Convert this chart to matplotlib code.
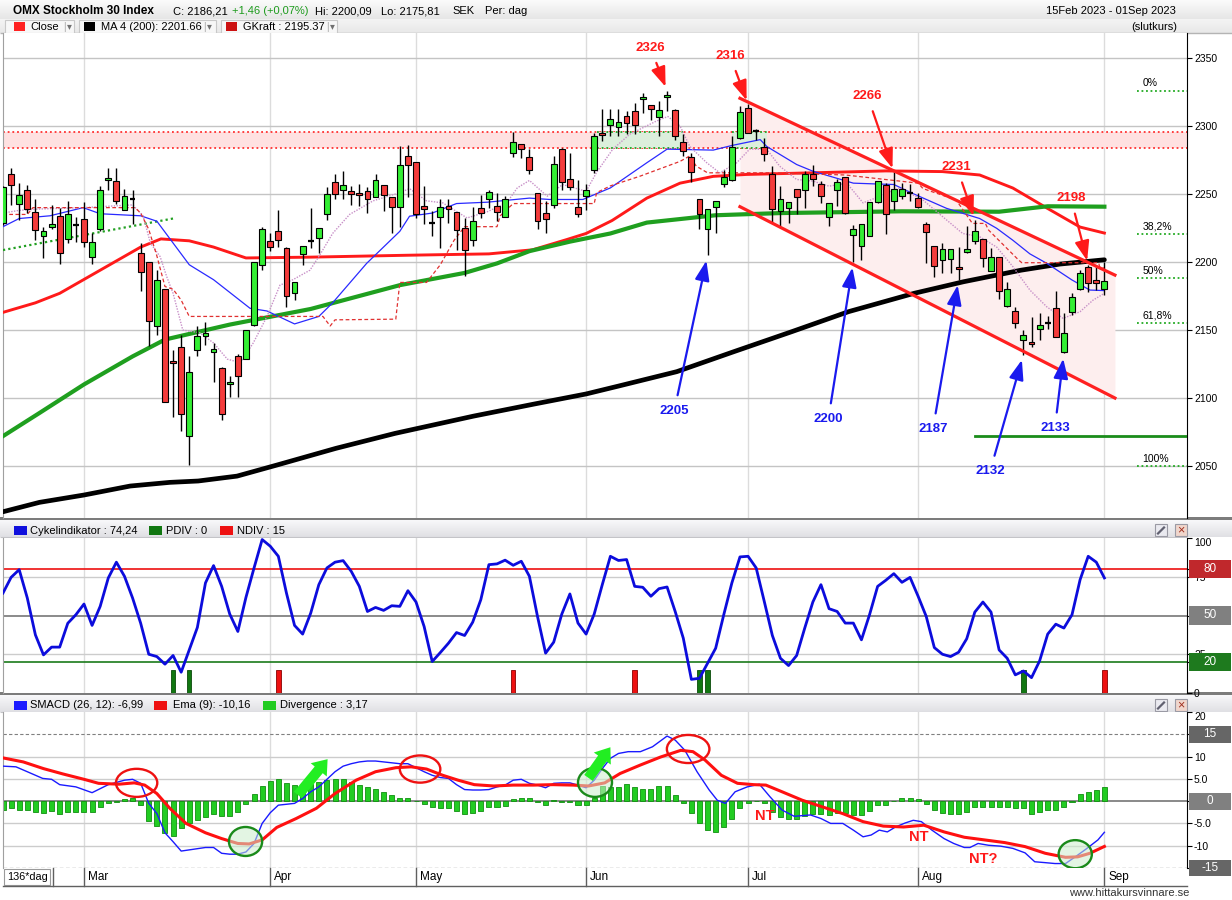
import numpy as np
import matplotlib
matplotlib.use("Agg")
import matplotlib.pyplot as plt
import matplotlib.transforms as mtransforms
from matplotlib.patches import Rectangle, Ellipse, FancyArrowPatch
from matplotlib.colors import LinearSegmentedColormap

plt.rcParams['font.family'] = ['Liberation Sans', 'DejaVu Sans']

# ---------------- daily OHLC, OMXS30, 15 Feb - 1 Sep 2023 ----------------
opens = [
    2229, 2265, 2242.6, 2253, 2236.8, 2219, 2226, 2233.6, 2217, 2227,
    2231.6, 2203.7, 2224, 2260, 2259.6, 2238.5, 2246, 2207, 2200, 2153,
    2180, 2127.3, 2137.5, 2072, 2135, 2145.3, 2133.8, 2122, 2110.3, 2130.6,
    2128.7, 2154, 2198, 2215.4, 2223, 2210, 2177, 2206, 2215.5, 2218,
    2235.4, 2259, 2252.6, 2252.3, 2251, 2252.3, 2248, 2256.5, 2248, 2240.5,
    2278, 2273.7, 2241, 2228.5, 2233, 2241, 2236.9, 2225.3, 2216.5, 2239.8,
    2246, 2241, 2233, 2280.3, 2286.5, 2277.4, 2251, 2236, 2242.3, 2283.3,
    2261.2, 2240.5, 2248.4, 2267.6, 2295, 2300.5, 2299.5, 2307.4, 2311, 2319.7,
    2315.7, 2306.9, 2321.6, 2311.5, 2288.2, 2277.4, 2246.4, 2224.3, 2240.5, 2257.7,
    2260, 2291.4, 2313.5, 2296.3, 2284.8, 2264.9, 2237.3, 2239.8, 2253.8, 2252.6,
    2264.4, 2257.5, 2233.2, 2252.6, 2262.6, 2220.1, 2211.5, 2218.9, 2244, 2256.3,
    2245, 2248.5, 2250.5, 2246.8, 2227.7, 2211.8, 2201.5, 2202, 2196, 2207.4,
    2215.4, 2217.2, 2193.4, 2203.4, 2167.6, 2164.2, 2142.6, 2141.4, 2150.5, 2155.4,
    2166, 2134, 2163.2, 2180, 2196, 2186.8, 2180]
highs = [
    2256, 2269, 2258, 2257, 2246, 2226, 2242, 2240, 2245, 2233,
    2244, 2221, 2255.6, 2269, 2269, 2253.7, 2253, 2213.7, 2200, 2194,
    2180, 2135, 2146.5, 2131, 2153, 2156, 2140.5, 2123, 2116, 2132.6,
    2150, 2200, 2226, 2221, 2238, 2211, 2185, 2212, 2239.6, 2225,
    2255, 2264.4, 2266.8, 2256, 2257.7, 2255, 2265, 2256.5, 2248, 2285,
    2286, 2273.7, 2255.8, 2237.3, 2246, 2246, 2236.9, 2232.4, 2240.5, 2249.6,
    2253.3, 2250.9, 2248.4, 2295.8, 2287, 2282.8, 2251, 2244.7, 2277.9, 2284,
    2279.9, 2260, 2257.7, 2295, 2312.3, 2312.3, 2312.3, 2311, 2317, 2324,
    2315.7, 2318.4, 2326, 2312.8, 2294, 2280.3, 2246.4, 2239, 2244.7, 2268,
    2292.6, 2314.7, 2316, 2298, 2291.4, 2270.5, 2255.8, 2244.2, 2253.8, 2266.8,
    2271, 2259.5, 2243.5, 2260.7, 2262.6, 2227.5, 2228.3, 2244.2, 2259.5, 2258,
    2266, 2258.3, 2257.4, 2250.5, 2229.2, 2211.8, 2214.2, 2209.8, 2210.8, 2226.5,
    2231, 2217.2, 2210, 2203.4, 2185.5, 2167.2, 2150, 2159.8, 2162.7, 2160.3,
    2179, 2162.3, 2177.5, 2194, 2198, 2196, 2200.09]
lows = [
    2227, 2242, 2231, 2236, 2216, 2203, 2224, 2198.5, 2214, 2214.5,
    2211, 2198.5, 2222.5, 2253, 2243, 2238, 2228, 2178.4, 2138, 2146,
    2097, 2086, 2076, 2051, 2131, 2139, 2112, 2084, 2100.5, 2101,
    2128.7, 2153, 2194, 2207.8, 2211, 2167, 2172, 2198, 2210, 2206.6,
    2230.7, 2246, 2246, 2242, 2241.5, 2236, 2248, 2237.3, 2221.4, 2225.8,
    2247.7, 2232.4, 2228, 2219.4, 2210, 2229, 2208.6, 2189.4, 2212, 2232.4,
    2239.8, 2230, 2233, 2277.4, 2276.2, 2265, 2224, 2221.4, 2239.8, 2253.3,
    2253.3, 2233, 2238, 2265.6, 2289, 2292.6, 2293, 2294, 2294, 2309.3,
    2304.4, 2292.6, 2311, 2290, 2278, 2258.7, 2224.6, 2205, 2221.4, 2255.3,
    2259.5, 2290.7, 2295, 2290, 2274.2, 2229.2, 2226.7, 2228.7, 2235.6, 2239.8,
    2255.8, 2243.5, 2226.3, 2241, 2235.6, 2200, 2201.7, 2218.9, 2243.5, 2220.6,
    2238, 2246, 2245, 2239.5, 2199.5, 2189.2, 2192.2, 2192.2, 2187, 2206.9,
    2213, 2196.6, 2193.4, 2172.5, 2166.7, 2151.2, 2132, 2137.7, 2143, 2150.5,
    2144.6, 2133, 2161, 2179.4, 2178.2, 2179.4, 2175.81]
closes = [
    2255, 2256.6, 2249, 2239, 2223.8, 2223, 2228, 2206.6, 2235, 2227,
    2214.7, 2214.7, 2253, 2262, 2244.6, 2248.5, 2246, 2192.6, 2156.6, 2186.8,
    2097, 2126, 2088, 2119, 2145.7, 2147.5, 2136, 2088, 2111.8, 2116.4,
    2150, 2200, 2224, 2211, 2216, 2175, 2185, 2212, 2215.5, 2225,
    2250, 2250, 2256.8, 2250, 2249.4, 2246.7, 2260, 2249.4, 2240.5, 2271.5,
    2271, 2235.4, 2239.3, 2228.5, 2240.5, 2239.3, 2223.8, 2208.6, 2230.5, 2236,
    2251.6, 2236.9, 2246.4, 2288.5, 2283.3, 2268, 2230, 2231.7, 2272.2, 2259,
    2255.3, 2235.6, 2253.3, 2293, 2293.6, 2305.4, 2303.2, 2302.5, 2300.5, 2321.6,
    2312.8, 2311.5, 2323, 2292.6, 2282, 2266, 2235.6, 2239, 2244.7, 2262.6,
    2284.8, 2310.3, 2295, 2296.3, 2279.6, 2239, 2246.4, 2244.2, 2247.9, 2264.9,
    2261.2, 2248.9, 2243.5, 2258.7, 2236, 2224.6, 2228.3, 2244.2, 2259.5, 2235.6,
    2253.7, 2253.4, 2250.5, 2240.7, 2222.3, 2197, 2209.3, 2209.8, 2194.6, 2209.3,
    2223, 2203.2, 2203.4, 2179, 2180.4, 2155, 2146.3, 2139.5, 2153.7, 2155.4,
    2145, 2148, 2174, 2191.7, 2184.8, 2184.75, 2186.21]

# month starts (trading-day index) and their names
month_idx = [10, 33, 51, 72, 92, 113, 136]
month_names = ['Mar', 'Apr', 'May', 'Jun', 'Jul', 'Aug', 'Sep']

# moving averages / overlays: (day index, value)
ma200_x = [0, 4.5, 10, 15.7, 20.6, 24.1, 28.9, 33.8, 41.1, 48.4, 58.1, 65.6, 72, 76,
           83.2, 90.2, 97.4, 104.4, 112.5, 118.6, 125.7, 130.5, 136]
ma200_y = [2016.4, 2023.3, 2028.7, 2035.3, 2038, 2039, 2042.6, 2050.7, 2063, 2074,
           2086.7, 2095.6, 2103, 2108.8, 2119.4, 2134, 2148.8, 2163.5, 2177, 2185.5,
           2194, 2198.5, 2201.66]
ma_red_x = [0, 4, 7, 12, 17, 19.5, 23, 26, 30, 38, 50, 60, 65.4, 69.6, 72, 75.2, 79.5,
            83.6, 87.7, 91.8, 100, 109, 116, 120.6, 124.7, 128.9, 133, 136]
ma_red_y = [2163, 2170, 2177, 2194, 2211, 2217, 2215.6, 2211, 2203, 2203.6, 2205, 2206,
            2209, 2216.5, 2221, 2230.5, 2247, 2258, 2263, 2264.4, 2265.6, 2267, 2266.5,
            2264, 2254.4, 2239.7, 2225.7, 2221.3]
ma_green_x = [0, 4.5, 10, 16, 20, 28, 38, 49, 57, 61, 65, 70, 75, 79.5, 88, 96, 111,
              123, 129, 136]
ma_green_y = [2072, 2089, 2110, 2130.6, 2143, 2154, 2165.5, 2183, 2192, 2199, 2208,
              2215, 2221, 2229, 2234.4, 2236, 2237.3, 2237, 2241, 2240.7]
ma_blue_x = [0, 2, 5.8, 9.9, 12, 17, 19, 23, 26, 30.5, 32.6, 36, 39, 40.7, 44.9, 49,
             50.2, 53, 56, 59.8, 65, 67.5, 71.6, 75, 79.5, 82, 87.7, 90, 93.5, 94.3, 98,
             100, 105, 107.4, 110, 112.3, 116.5, 120.6, 122.7, 124.7, 126.8, 128.9, 132,
             134.2, 136]
ma_blue_y = [2226, 2232, 2234, 2240, 2235.5, 2234, 2230, 2198, 2187, 2166, 2164, 2154.5,
             2160, 2170, 2199, 2222.6, 2233.7, 2236, 2243, 2244, 2247, 2246, 2246, 2254.5,
             2273, 2283, 2282.3, 2285.7, 2290, 2285, 2271.7, 2266.8, 2258, 2257.5, 2257,
             2250.5, 2239.5, 2232, 2224.8, 2216, 2206, 2199, 2186.8, 2179.4, 2179]
ma_short_x = [0, 2, 4.6, 9.9, 16, 17.3, 18.2, 19.4, 20.2, 21, 22.2, 24.3, 26, 27.7, 29.3,
              30.9, 32.6, 34.2, 35.8, 37.9, 39, 40.7, 42.8, 45.7, 49, 50.2, 52.3, 54.3,
              57.3, 59.8, 62.2, 63.5, 65, 67.2, 69.1, 72, 73.3, 75.3, 77.4, 80.7, 82.1,
              83.6, 84.8, 86.9, 88.5, 90.6, 92.2, 94.3, 95.9, 98, 100, 102, 104.2, 106.2,
              108.3, 110.7, 113.6, 116.5, 118.5, 120.6, 122.7, 124.7, 126.8, 128.9, 130.9,
              133, 134.6, 136]
ma_short_y = [2236, 2238, 2239, 2240, 2242, 2234, 2214, 2204, 2189.5, 2177, 2150, 2148,
              2140.5, 2128.6, 2126, 2140.5, 2160, 2183, 2187, 2194, 2204, 2221, 2235, 2245,
              2251, 2254, 2245, 2243.5, 2232.4, 2237, 2243.5, 2254.5, 2260, 2248.4, 2257,
              2252, 2266, 2283, 2294, 2303.7, 2307, 2300, 2285, 2273, 2265.6, 2273, 2283,
              2283, 2270.5, 2260.7, 2259.5, 2255.8, 2258, 2243.5, 2248.4, 2254.5, 2245.6,
              2231, 2221, 2218.6, 2211, 2196.6, 2179.4, 2167, 2158.6, 2163.5, 2172, 2177]
gkraft_x = [0, 3, 3.7, 16.3, 17, 18, 19, 20, 21, 22, 23, 39.5, 40.4, 41, 48.5, 49, 52.3,
            54, 55.7, 57, 61, 61.4, 63, 73, 73.3, 75, 78.6, 83.6, 84.8, 85.6, 87, 95, 104,
            113, 113.6, 117.7, 119.7, 121.3, 121.7, 125.4, 125.8, 135.3, 135.4, 136]
gkraft_y = [2235, 2235, 2240, 2240, 2236, 2224, 2204.5, 2182, 2180, 2172, 2160, 2160,
            2153, 2157.5, 2158, 2185, 2185, 2198, 2216, 2226, 2226, 2234, 2243, 2243, 2251,
            2256, 2263, 2274, 2278, 2270.5, 2265.6, 2265.6, 2264, 2258, 2254, 2245.6,
            2228.4, 2228.4, 2223.5, 2201.5, 2199.5, 2199.5, 2196.6, 2195.37]

# drawn studies on the price chart
chan_x = [91, 137.3]
chan_top = [2320.4, 2190.4]
chan_bot = [2240.7, 2100]
band_lo, band_hi = 2283.6, 2295.3
zone_x = [(73.3, 84), (90, 94.3)]
trend_x, trend_y = [0, 21], [2208.8, 2232]
support_x, support_y = [120, 146.2], [2072, 2072]
fib_levels = [2326, 2220.6, 2188, 2155.4, 2050]
fib_names = ['0%', '38,2%', '50%', '61,8%', '100%']

red_marks = [2326, 2316, 2266, 2231, 2198]
red_marks_idx = [82, 92, 110, 120, 134]
red_marks_off = [(-12, 31), (-13, 35), (-19, 55), (-13, 38), (-12.5, 48)]
blue_marks = [2205, 2200, 2187, 2132, 2133]
blue_marks_idx = [87, 105, 118, 126, 131]
blue_marks_off = [(-24, -112), (-18, -113), (-18.5, -107.5), (-24, -84), (-6.5, -54)]

# cycle indicator
cykel = [
    64.5, 74.6, 79.6, 61.3, 37.5, 24.6, 29.6, 29.6, 45.0, 50.5,
    57.4, 43.6, 55.9, 74.2, 84.4, 75.3, 61.3, 45.0, 25.0, 23.5,
    18.6, 24.2, 13.4, 27.8, 42.3, 71.0, 82.2, 68.8, 50.9, 39.7,
    61.7, 80.7, 99.0, 94.7, 88.2, 64.5, 43.6, 38.0, 51.6, 69.9,
    80.7, 84.4, 85.4, 78.5, 68.8, 52.6, 55.2, 53.3, 56.3, 55.9,
    66.0, 58.7, 42.9, 20.3, 26.1, 32.1, 39.0, 37.1, 45.7, 60.2,
    82.8, 83.3, 85.7, 82.4, 85.0, 75.3, 49.4, 25.7, 32.8, 50.9,
    63.9, 45.1, 38.0, 50.9, 69.9, 88.2, 85.5, 86.1, 68.8, 68.2,
    62.4, 67.3, 68.4, 52.6, 35.4, 8.8, 9.5, 19.2, 28.9, 50.5,
    71.0, 87.8, 88.2, 80.7, 59.1, 37.1, 22.4, 17.7, 24.2, 41.9,
    58.7, 69.9, 54.4, 52.6, 45.1, 45.1, 34.3, 50.5, 68.8, 72.7,
    77.0, 71.4, 74.6, 62.4, 49.4, 29.3, 25.0, 23.5, 26.3, 35.0,
    52.2, 58.7, 52.2, 27.8, 22.4, 11.7, 14.2, 9.9, 20.7, 38.0,
    44.4, 41.9, 50.5, 73.1, 88.2, 84.4, 74.24]
pdiv_idx = [21, 23, 86, 87, 126]
ndiv_idx = [34, 63, 78, 136]
div_height = 15

# SMACD
smacd_x = [0, 1.6, 3, 4.9, 6, 7, 9, 11, 13, 15, 16, 17, 18, 19, 20, 21, 22, 23.5, 25, 26,
           27, 28, 29, 30, 31, 32, 33, 34, 36, 37, 38, 39, 40, 41, 42, 43, 44, 45, 46, 47,
           48, 49, 50, 51, 52, 53, 54, 55, 56, 57, 58, 59, 60, 61, 62, 63, 64, 65, 66, 67,
           68, 69, 70, 71, 72, 73, 74, 75, 76, 77.2, 78.7, 80.2, 82, 83, 84.2, 85.7, 87.2,
           88.2, 89.2, 90.4, 91.9, 93.4, 94.7, 96.2, 97.7, 99.7, 101, 102.2, 103.7, 105,
           106.2, 107.2, 108.2, 109.2, 110.2, 111.4, 112.4, 113.4, 114.7, 116.2, 117.4,
           118.7, 119.4, 120.4, 121.7, 123.2, 124.7, 126.2, 127.4, 128.7, 129.9, 131.2,
           132.4, 133.7, 135.2, 136]
smacd_y = [7.85, 7.7, 6.6, 5.1, 4.9, 3.7, 3.2, 1.9, 3.7, 4.7, 4.9, 4.0, -0.5, -2.8, -7.1,
           -9.1, -11.2, -10.8, -10.4, -10.4, -11.7, -11.9, -11.9, -11.4, -9.5, -5.0, -2.6,
           -0.9, -0.5, 0.6, 2.1, 3.2, 4.9, 6.6, 7.85, 8.4, 8.8, 9.0, 9.0, 8.8, 8.6, 8.4,
           8.4, 7.5, 6.6, 5.8, 5.3, 5.1, 3.7, 2.6, 2.5, 2.5, 2.6, 3.2, 3.6, 4.7, 4.9, 4.0,
           3.6, 3.0, 4.0, 4.1, 4.1, 3.6, 3.0, 4.7, 7.3, 9.6, 10.7, 11.1, 11.1, 12.2, 14.6,
           13.7, 11.4, 6.6, 2.5, 0.2, -0.5, 2.1, 3.2, 3.8, 1.0, -2.0, -3.4, -3.1, -3.9,
           -5.0, -5.0, -6.5, -8.0, -7.6, -6.5, -6.9, -5.8, -4.9, -4.3, -4.6, -6.5, -8.4,
           -9.5, -10.4, -10.4, -9.5, -9.9, -10.1, -10.6, -11.6, -13.6, -13.8, -14.0, -14.0,
           -12.5, -10.8, -8.7, -6.99]
ema_x = [0, 2.5, 5, 7.4, 10, 11.8, 14.3, 16.2, 17.5, 19, 20.6, 22.6, 25, 27, 29, 30.4, 32,
         33.8, 36.2, 38.7, 41, 43.6, 46, 48.5, 50.4, 52.3, 54.3, 56.2, 58.2, 60.6, 63, 65.5,
         67.9, 70.4, 72.3, 74.3, 76.2, 78.7, 81.2, 83.7, 85.2, 86.7, 88.7, 90.7, 92.7, 94.2,
         96.2, 98.7, 101.2, 103.7, 106.2, 108.7, 111.2, 113.7, 116.2, 118.7, 121.2, 123.7,
         126.2, 128.7, 131.2, 132.7, 134.2, 136]
ema_y = [9.7, 8.8, 7.3, 6.1, 4.9, 4.0, 3.8, 4.1, 3.6, 1.7, -1.6, -5.0, -7.1, -8.4, -9.5,
         -9.6, -8.7, -5.9, -3.9, -1.6, 1.7, 4.7, 6.6, 7.5, 7.7, 7.2, 5.8, 4.7, 3.7, 3.4,
         3.6, 3.6, 3.7, 3.6, 3.4, 4.1, 6.2, 8.1, 9.9, 11.4, 11.1, 9.2, 5.8, 4.0, 3.7, 3.6,
         2.1, 0.2, -1.3, -2.8, -4.6, -5.6, -5.8, -5.4, -6.9, -8.1, -8.7, -9.3, -10.2,
         -11.7, -12.6, -12.5, -11.7, -10.16]
divergence = [
    -2.0, -1.6, -1.9, -2.0, -2.4, -2.6, -2.2, -2.9, -2.4, -2.4,
    -2.4, -2.4, -1.4, -0.4, -0.1, 0.4, 0.8, -0.9, -4.4, -5.6,
    -7.1, -7.8, -6.1, -5.0, -4.3, -3.5, -2.8, -3.4, -3.4, -2.4,
    -0.7, 1.6, 3.4, 4.6, 4.9, 4.1, 3.6, 3.2, 3.8, 4.3,
    4.7, 4.9, 4.9, 4.3, 3.7, 3.1, 2.8, 2.1, 1.3, 0.8,
    0.8, 0.0, -0.7, -1.4, -1.6, -1.6, -2.2, -2.8, -2.6, -2.2,
    -1.4, -1.4, -1.1, 0.4, 0.8, 0.8, -0.3, -0.9, 0.2, -0.1,
    -0.3, -0.9, -0.9, 0.8, 3.4, 3.2, 3.2, 3.8, 3.1, 2.8,
    2.8, 3.4, 3.4, 1.3, -0.5, -2.6, -5.0, -6.4, -6.9, -5.9,
    -3.9, -1.6, -0.5, 0.0, -0.5, -2.4, -3.5, -4.1, -4.1, -3.4,
    -2.9, -2.8, -3.1, -2.6, -2.6, -3.1, -3.1, -2.2, -0.9, -0.9,
    0.0, 0.6, 0.8, 0.4, -0.7, -2.0, -2.6, -2.8, -2.9, -2.4,
    -1.3, -1.4, -1.3, -1.3, -1.4, -1.6, -1.6, -2.8, -2.4, -1.9,
    -1.9, -1.4, -0.1, 1.5, 2.1, 2.6, 3.17]

# markings on the SMACD panel: (index, value, width, height)
red_rings = [(16.5, 4.1, 5.1, 6.3), (51.5, 7.2, 5.0, 6.1), (84.6, 11.7, 5.25, 6.3)]
green_rings = [(29.95, -9.05, 4.1, 6.5), (73.1, 4.2, 4.2, 6.5), (132.4, -11.9, 4.1, 6.3)]
up_arrows = [((36.2, 0.9), (40.3, 9.9)), ((72.1, 4.7), (75.2, 12.6))]
nt_labels = [(94.0, -3.3, 'NT'), (113.1, -8.0, 'NT'), (121.0, -13.0, 'NT?')]

# ---------------- figure ----------------
W, H = 1232, 900
fig = plt.figure(figsize=(W / 100, H / 100), dpi=100)
fig.patch.set_facecolor('white')


def px_axes(x0, y0, x1, y1, **kw):
    return fig.add_axes([x0 / W, 1 - y1 / H, (x1 - x0) / W, (y1 - y0) / H], **kw)


bg = px_axes(0, 0, W, H, zorder=0)


def gradient(x0, x1, y0, y1, c0, c1):
    cmap = LinearSegmentedColormap.from_list('hdr', [c0, c1])
    bg.imshow(np.linspace(0, 1, 32).reshape(-1, 1), extent=(x0, x1, y1, y0),
              aspect='auto', cmap=cmap, origin='upper', interpolation='bilinear', zorder=0)


# title bar
gradient(0, W, 0, 19, '#fbfbfb', '#e6e6e6')
gradient(0, W, 19, 33, '#f4f4f4', '#e8e8e8')
bg.hlines(33, 0, W, color='#b4b4b4', lw=1, zorder=1)

TXT = 8
row1, row2 = 11.5, 26.5
bg.text(13, row1, 'OMX Stockholm 30 Index', fontsize=8.5, fontweight='bold', va='center')
bg.text(173, row1, 'C: 2186,21', fontsize=TXT, va='center')
bg.text(232, row1, '+1,46 (+0,07%)', fontsize=TXT, va='center', color='#1c9a1c')
bg.text(315, row1, 'Hi: 2200,09', fontsize=TXT, va='center')
bg.text(381, row1, 'Lo: 2175,81', fontsize=TXT, va='center')
bg.text(452, row1, 'SEK', fontsize=TXT, va='center')
bg.text(485, row1, 'Per: dag', fontsize=TXT, va='center')
bg.text(1176, row1, '15Feb 2023 - 01Sep 2023', fontsize=TXT, va='center', ha='right')
bg.text(1177, row2, '(slutkurs)', fontsize=TXT, va='center', ha='right')

legend_items = [((5, 74), '#ff2222', 14, 'Close', 30, 63),
                ((79, 216), '#000000', 84, 'MA 4 (200): 2201.66', 101, 203),
                ((221, 337), '#cc1111', 226, 'GKraft : 2195.37', 243, 326)]
for (bx0, bx1), col, sx, label, tx, dx in legend_items:
    bg.add_patch(Rectangle((bx0, 20), bx1 - bx0, 13, fc='#f7f7f7', ec='#c8c8c8', lw=0.8, zorder=1))
    bg.add_patch(Rectangle((sx, 22), 10.5, 9, fc=col, ec='none', zorder=2))
    bg.text(tx, row2, label, fontsize=TXT, va='center', zorder=3)
    bg.text(dx, row2, '|', fontsize=7, va='center', color='#a0a0a0', zorder=3)
    bg.text(dx + 3.5, row2, '\u25be', fontsize=7, va='center', color='#707070', zorder=3)

# panel header strips
for top in (517, 692):
    bg.add_patch(Rectangle((0, top), W, 3, fc='#7c7c7c', ec='none', zorder=1))
    gradient(0, W, top + 3, top + 20, '#f8f8fa', '#e0e0e4')
    bg.hlines(top + 20, 0, 1187, color='#c4c4c8', lw=0.8, zorder=1)
    yc = top + 13
    bg.add_patch(Rectangle((1155, yc - 6), 12, 12, fc='#eaeaf0', ec='#9a9aa4', lw=0.8, zorder=2))
    bg.plot([1158, 1164], [yc + 3.5, yc - 2.5], color='#606070', lw=1.6, zorder=3)
    bg.add_patch(Rectangle((1175, yc - 6), 12, 12, fc='#f0d6cc', ec='#9a9aa4', lw=0.8, zorder=2))
    bg.text(1181, yc, '\u00d7', fontsize=9, ha='center', va='center', color='#a03020', zorder=3)

hdr2 = [(14, '#1010dd', 'Cykelindikator : 74,24', 30.4),
        (149, '#117711', 'PDIV : 0', 166),
        (220, '#ee1111', 'NDIV : 15', 237)]
for sx, col, label, tx in hdr2:
    bg.add_patch(Rectangle((sx, 526), 12.5, 8.5, fc=col, ec='none', zorder=2))
    bg.text(tx, 530.5, label, fontsize=TXT, va='center', zorder=3)
hdr3 = [(14, '#1a1aff', 'SMACD (26, 12): -6,99', 30.4),
        (154, '#ee1111', 'Ema (9): -10,16', 172.7),
        (263, '#22cc22', 'Divergence : 3,17', 279.5)]
for sx, col, label, tx in hdr3:
    bg.add_patch(Rectangle((sx, 701), 12.5, 8.5, fc=col, ec='none', zorder=2))
    bg.text(tx, 705.5, label, fontsize=TXT, va='center', zorder=3)

bg.text(1189, 893, 'www.hittakursvinnare.se', fontsize=8, ha='right', va='center', color='#333333')
bg.set_xlim(0, W)
bg.set_ylim(H, 0)
bg.axis('off')

# ---------------- price panel ----------------
ax1 = px_axes(3, 33, 1187, 518, zorder=2)
ax2 = px_axes(3, 538, 1187, 693, zorder=2)
ax3 = px_axes(3, 712, 1187, 868, zorder=2)
XMAX = 146.2
for ax in (ax1, ax2, ax3):
    ax.set_xlim(0, XMAX)
    ax.set_xticks([])
    ax.spines['top'].set_visible(False)
    ax.spines['bottom'].set_visible(False)
    ax.spines['left'].set_color('#a0a0a0')
    ax.spines['right'].set_color('black')
    ax.yaxis.tick_right()
    ax.tick_params(axis='y', length=3.5, width=0.8, pad=1.5, labelsize=7.5, colors='black')
    for m in month_idx:
        ax.axvline(m, color='#dcdcdc', lw=1, zorder=0.5)

ax1.set_ylim(2011.8, 2368.4)
price_ticks = [2050, 2100, 2150, 2200, 2250, 2300, 2350]
ax1.set_yticks(price_ticks)
ax1.set_yticklabels([str(t) for t in price_ticks])
for t in price_ticks:
    ax1.axhline(t, color='#c4c4c4', lw=1, zorder=0.6)

# channel area, resistance band and June zones
ax1.fill_between(chan_x, chan_bot, chan_top, color='#fdeeee', lw=0, zorder=0.8)
ax1.axhspan(band_lo, band_hi, color='#ffe1e1', lw=0, zorder=1)
for lvl in (band_lo, band_hi):
    ax1.axhline(lvl, color='#ff3030', lw=1.3, ls=(0, (1, 1.6)), zorder=1.1)
for za, zb in zone_x:
    ax1.fill_between([za, zb], [band_lo] * 2, [band_hi] * 2, color='#dcefdc', lw=0, zorder=1.2)
    ax1.plot([za, zb], [band_hi, band_hi], color='#22a022', lw=1.3, ls=(0, (1, 1.6)), zorder=1.3)
    ax1.plot([za, zb], [band_lo, band_lo], color='#22a022', lw=1.3, ls=(0, (1, 1.6)), zorder=1.3)

# moving averages and levels
ax1.plot(trend_x, trend_y, color='#22a022', lw=1.6, ls=(0, (1, 1.4)), zorder=3)
ax1.plot(ma200_x, ma200_y, color='black', lw=3.4, zorder=3.5, solid_capstyle='round')
ax1.plot(ma_green_x, ma_green_y, color='#1f9f1f', lw=3.0, zorder=3.4)
ax1.plot(ma_red_x, ma_red_y, color='#ff1a1a', lw=2.1, zorder=3.3)
ax1.plot(ma_blue_x, ma_blue_y, color='#2a2aff', lw=0.9, zorder=3.6)
ax1.plot(ma_short_x, ma_short_y, color='#c890c8', lw=1.0, ls=(0, (1, 1)), zorder=3.6)
ax1.plot(gkraft_x, gkraft_y, color='#e03030', lw=0.9, ls=(0, (3, 2)), zorder=3.6)
ax1.plot(support_x, support_y, color='#1a8c1a', lw=2.0, zorder=3)

# candlesticks
idx = np.arange(len(closes))
o, h, l, c = (np.array(a, dtype=float) for a in (opens, highs, lows, closes))
up, dn, eq = c > o, c < o, c == o
BW = 0.72
ax1.vlines(idx, l, h, color='black', lw=1, zorder=5)
ax1.bar(idx[up], (c - o)[up], bottom=o[up], width=BW, color='#33ee33',
        edgecolor='black', lw=0.8, zorder=6)
ax1.bar(idx[dn], (o - c)[dn], bottom=c[dn], width=BW, color='#f43c3c',
        edgecolor='black', lw=0.8, zorder=6)
ax1.hlines(c[eq], idx[eq] - BW / 2, idx[eq] + BW / 2, color='black', lw=1.6, zorder=6)

# falling channel
ax1.plot(chan_x, chan_top, color='#ff2020', lw=2.3, zorder=7)
ax1.plot(chan_x, chan_bot, color='#ff2020', lw=2.3, zorder=7)

# fibonacci retracement marks
for lvl, name in zip(fib_levels, fib_names):
    ax1.plot([140.0, XMAX], [lvl, lvl], color='#22aa22', lw=1.3, ls=(0, (1, 1.5)), zorder=3)
    ax1.text(140.7, lvl + 5.3, name, fontsize=7.5, va='center', ha='left', zorder=8)

# peak and trough labels with arrows
for val, i, off in zip(red_marks, red_marks_idx, red_marks_off):
    ax1.annotate(str(val), xy=(i, val), xytext=off, textcoords='offset points',
                 ha='center', va='center', fontsize=9.5, fontweight='bold', color='#ff1a1a',
                 arrowprops=dict(arrowstyle='-|>,head_length=0.6,head_width=0.22',
                                 mutation_scale=20, color='#ff1a1a', lw=1.6,
                                 shrinkA=5, shrinkB=3), zorder=9)
for val, i, off in zip(blue_marks, blue_marks_idx, blue_marks_off):
    ax1.annotate(str(val), xy=(i, val), xytext=off, textcoords='offset points',
                 ha='center', va='center', fontsize=9.5, fontweight='bold', color='#1a1aee',
                 arrowprops=dict(arrowstyle='-|>,head_length=0.6,head_width=0.22',
                                 mutation_scale=20, color='#1a1aee', lw=1.6,
                                 shrinkA=5, shrinkB=4), zorder=9)


def side_box(ax, y, label, color, half_h):
    tr = mtransforms.blended_transform_factory(ax.transAxes, ax.transData)
    ax.add_patch(Rectangle((1.0017, y - half_h), 0.0355, 2 * half_h, transform=tr,
                           fc=color, ec='none', clip_on=False, zorder=10))
    ax.text(1.0195, y, label, transform=tr, ha='center', va='center', color='white',
            fontsize=8.5, clip_on=False, zorder=11)


# ---------------- cycle indicator panel ----------------
ax2.set_ylim(0, 100)
ax2.set_yticks([0, 20, 25, 50, 75, 80, 100])
ax2.set_yticklabels(['0', '', '25', '', '75', '', '100'])
for lab in ax2.get_yticklabels():
    if lab.get_text() == '100':
        lab.set_va('top')
for v in (25, 75):
    ax2.axhline(v, color='#cccccc', lw=1, zorder=0.6)
ax2.axhline(80, color='#ee1111', lw=1.2, zorder=1)
ax2.axhline(50, color='#777777', lw=1.2, zorder=1)
ax2.axhline(20, color='#1a7a1a', lw=1.2, zorder=1)
ax2.bar(pdiv_idx, [div_height] * len(pdiv_idx), width=0.55, color='#117711',
        edgecolor='#0a4a0a', lw=0.6, zorder=2)
ax2.bar(ndiv_idx, [div_height] * len(ndiv_idx), width=0.55, color='#ee1111',
        edgecolor='#8a0000', lw=0.6, zorder=2)
ax2.plot(idx, cykel, color='#0c0cdc', lw=2.0, zorder=4)
side_box(ax2, 80, '80', '#c0282c', 6.1)
side_box(ax2, 50, '50', '#808080', 6.1)
side_box(ax2, 20, '20', '#1e7a1e', 6.1)

# ---------------- SMACD panel ----------------
ax3.set_ylim(-15, 20)
ax3.set_yticks([-15, -10, -5, 0, 5, 10, 15, 20])
ax3.set_yticklabels(['', '-10', '-5.0', '', '5.0', '10', '', '20'])
for lab in ax3.get_yticklabels():
    if lab.get_text() == '20':
        lab.set_va('top')
for v in (-10, -5, 5, 10):
    ax3.axhline(v, color='#cccccc', lw=1, zorder=0.6)
ax3.axhline(0, color='#6a6a6a', lw=1.1, zorder=1)
ax3.axhline(15, color='#808080', lw=0.8, ls=(0, (3, 2)), zorder=1)
ax3.axhline(-15, color='#606060', lw=0.9, ls=(0, (3, 2)), zorder=1)
ax3.bar(idx, divergence, width=0.62, color='#22cc22', edgecolor='#0f8f0f', lw=0.6, zorder=2)
ax3.plot(smacd_x, smacd_y, color='#1a1aff', lw=1.0, zorder=4)
ax3.plot(ema_x, ema_y, color='#ff1010', lw=2.2, zorder=5)
for cx, cy, ew, eh in red_rings:
    ax3.add_patch(Ellipse((cx, cy), ew, eh, fill=False, ec='#ee1111', lw=1.7, zorder=7))
for cx, cy, ew, eh in green_rings:
    ax3.add_patch(Ellipse((cx, cy), ew, eh, fc=(0.80, 0.93, 0.80, 0.55), ec='#1a8a1a',
                          lw=1.7, zorder=7))
for a, b in up_arrows:
    ax3.add_patch(FancyArrowPatch(a, b, arrowstyle='simple,head_length=1.0,head_width=1.5,tail_width=0.75',
                                  mutation_scale=10, color='#22ee22', lw=0, zorder=8))
for xi, yv, t in nt_labels:
    ax3.text(xi, yv, t, color='#ff1a1a', fontsize=10.5, fontweight='bold',
             ha='center', va='center', zorder=8)
side_box(ax3, 15, '15', '#666666', 1.9)
side_box(ax3, 0, '0', '#808080', 1.9)
side_box(ax3, -15, '-15', '#666666', 1.9)

# date strip under the SMACD panel
trx = mtransforms.blended_transform_factory(ax3.transData, ax3.transAxes)
tra = ax3.transAxes
row_y = -0.058
ax3.plot([0, 1.0], [-0.116, -0.116], transform=tra, color='#606060', lw=1, clip_on=False)
ax3.plot([0.0423, 0.0423], [0, -0.116], transform=tra, color='#606060', lw=1, clip_on=False)
ax3.add_patch(Rectangle((0.001, -0.108), 0.0385, 0.1, transform=tra, fc='white',
                        ec='#9a9a9a', lw=0.8, clip_on=False))
ax3.text(0.0035, row_y, '136*dag', transform=tra, fontsize=7.8, va='center', ha='left',
         clip_on=False)
for m, name in zip(month_idx, month_names):
    ax3.plot([m, m], [0, -0.116], transform=trx, color='#606060', lw=1, clip_on=False)
    ax3.text(m + 0.5, row_y, name, transform=trx, fontsize=8.5, va='center', ha='left',
             clip_on=False)

fig.savefig('out.png', dpi=100)
